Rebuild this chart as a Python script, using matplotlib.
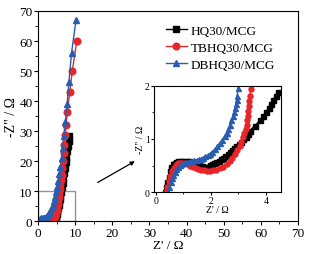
import matplotlib
matplotlib.use("Agg")
import matplotlib.pyplot as plt
from matplotlib.patches import Rectangle

plt.rcParams['font.family'] = ['Liberation Serif', 'DejaVu Serif']

labels = ["HQ30/MCG", "TBHQ30/MCG", "DBHQ30/MCG"]
colors = ["black", "#e8262a", "#2a5cb0"]
markers = ["s", "o", "^"]

# main plot data (Z', -Z'')
hq_x = [4.4, 4.5, 4.6, 4.7, 4.8, 4.9, 5.0, 5.1, 5.2, 5.35, 5.5, 5.65, 5.8, 6.0, 6.2,
        6.4, 6.6, 6.8, 7.0, 7.2, 7.4, 7.6, 7.8, 8.0, 8.2, 8.4]
hq_y = [0, 0.3, 0.6, 1.0, 1.4, 1.9, 2.4, 3.0, 3.6, 4.4, 5.3, 6.2, 7.2, 8.5, 9.8,
        11.2, 12.7, 14.3, 16.0, 17.8, 19.6, 21.4, 23.2, 25.0, 26.7, 28.5]
tb_x = [4.2, 4.3, 4.4, 4.5, 4.6, 4.7, 4.8, 4.95, 5.1, 5.25, 5.4, 5.55, 5.7, 5.85,
        6.0, 6.15, 6.3, 6.5, 6.7, 6.9, 7.1, 7.3, 7.5, 7.9, 8.5, 9.2, 10.4]
tb_y = [0, 0.4, 0.8, 1.3, 1.8, 2.4, 3.0, 3.8, 4.7, 5.7, 6.8, 8.0, 9.3, 10.7,
        12.2, 13.8, 15.5, 17.6, 20.0, 22.6, 25.5, 28.6, 32.0, 36.5, 43.0, 50.0, 60.0]
db_x = [0.3, 0.6, 0.9, 1.2, 1.5, 1.8, 2.1, 2.4, 2.7, 3.0, 3.3, 3.6, 3.9, 4.2, 4.5,
        4.8, 5.1, 5.4, 5.7, 6.0, 6.3, 6.6, 6.9, 7.3, 7.8, 8.3, 9.0, 10.2]
db_y = [0.4, 0.7, 0.9, 1.0, 1.1, 1.2, 1.4, 1.7, 2.1, 2.7, 3.4, 4.3, 5.4, 6.6, 8.0,
        9.6, 11.4, 13.4, 15.6, 18.0, 21.0, 24.5, 28.5, 33.0, 39.0, 46.5, 56.0, 67.0]

# inset data (zoom of high frequency region)
hq_ix = [0.33, 0.37, 0.42, 0.47, 0.51, 0.57, 0.63, 0.70, 0.75, 0.82, 0.90, 1.00, 1.12,
         1.22, 1.32, 1.40, 1.48, 1.58, 1.68, 1.76, 1.84, 1.90, 1.96, 2.05, 2.12, 2.20,
         2.28, 2.36, 2.45, 2.53, 2.61, 2.69, 2.77, 2.85, 2.93, 3.01, 3.09, 3.17, 3.26,
         3.34, 3.42, 3.60, 3.78, 3.90, 4.00, 4.10, 4.18, 4.27, 4.35, 4.45]
hq_iy = [0.00, 0.09, 0.19, 0.29, 0.40, 0.47, 0.52, 0.55, 0.56, 0.58, 0.59, 0.59, 0.59,
         0.58, 0.56, 0.54, 0.53, 0.51, 0.49, 0.48, 0.47, 0.48, 0.51, 0.53, 0.55, 0.57,
         0.59, 0.62, 0.65, 0.68, 0.71, 0.75, 0.79, 0.83, 0.87, 0.91, 0.95, 1.00, 1.04,
         1.09, 1.16, 1.25, 1.35, 1.43, 1.50, 1.58, 1.66, 1.74, 1.82, 1.89]
tb_ix = [0.38, 0.42, 0.47, 0.52, 0.58, 0.65, 0.72, 0.80, 0.88, 0.96, 1.05, 1.15, 1.25,
         1.35, 1.45, 1.55, 1.65, 1.75, 1.85, 1.96, 2.08, 2.20, 2.32, 2.45, 2.57, 2.69,
         2.78, 2.87, 2.96, 3.05, 3.11, 3.17, 3.22, 3.27, 3.30, 3.33, 3.35, 3.36, 3.38,
         3.40, 3.42, 3.45]
tb_iy = [0.00, 0.10, 0.20, 0.30, 0.39, 0.46, 0.51, 0.54, 0.55, 0.55, 0.54, 0.52, 0.50,
         0.47, 0.45, 0.43, 0.42, 0.41, 0.40, 0.40, 0.41, 0.42, 0.45, 0.48, 0.53, 0.59,
         0.65, 0.72, 0.80, 0.87, 0.95, 1.03, 1.11, 1.19, 1.27, 1.35, 1.44, 1.53, 1.62,
         1.72, 1.82, 1.95]
db_ix = [0.45, 0.49, 0.54, 0.59, 0.64, 0.69, 0.75, 0.81, 0.87, 0.93, 1.00, 1.08, 1.16,
         1.24, 1.32, 1.40, 1.48, 1.56, 1.64, 1.72, 1.80, 1.88, 1.96, 2.05, 2.15, 2.24,
         2.33, 2.42, 2.50, 2.57, 2.63, 2.69, 2.75, 2.80, 2.84, 2.88, 2.91, 2.94, 2.96, 3.00]
db_iy = [0.00, 0.09, 0.18, 0.26, 0.32, 0.37, 0.43, 0.48, 0.51, 0.53, 0.55, 0.56, 0.57,
         0.58, 0.59, 0.60, 0.61, 0.62, 0.63, 0.65, 0.67, 0.69, 0.72, 0.76, 0.81, 0.87,
         0.93, 0.99, 1.06, 1.12, 1.19, 1.27, 1.35, 1.43, 1.50, 1.58, 1.66, 1.74, 1.82, 1.97]

main_x = [hq_x, tb_x, db_x]
main_y = [hq_y, tb_y, db_y]
ins_x = [hq_ix, tb_ix, db_ix]
ins_y = [hq_iy, tb_iy, db_iy]

fig = plt.figure(figsize=(3.26, 2.55), dpi=100)
ax = fig.add_axes([0.117, 0.129, 0.797, 0.824])

for xs, ys, c, m, lab in zip(main_x, main_y, colors, markers, labels):
    ax.plot(xs, ys, color=c, marker=m, markersize=4.8, linewidth=1.0, label=lab)

ax.set_xlim(0, 70)
ax.set_ylim(0, 70)
ax.set_xticks(range(0, 71, 10))
ax.set_yticks(range(0, 71, 10))
ax.set_xticks(range(5, 70, 10), minor=True)
ax.set_yticks(range(5, 70, 10), minor=True)
ax.tick_params(which='both', direction='out', labelsize=9.5, pad=1)
ax.tick_params(which='major', length=3)
ax.tick_params(which='minor', length=2)
ax.set_xlabel("Z' / \u03a9", fontsize=9.5, labelpad=0)
ax.set_ylabel('-Z" / \u03a9', fontsize=10, labelpad=1)

ax.add_patch(Rectangle((0, 0), 10, 10, fill=False, edgecolor="#a585aa", linewidth=1.0))
ax.annotate("", xy=(26.7, 20.4), xytext=(15.4, 12.4),
            arrowprops=dict(arrowstyle="-|>", color="black", lw=0.9, mutation_scale=6))

ax.legend(loc="upper left", bbox_to_anchor=(0.47, 0.96), frameon=False, fontsize=9.5,
          handlelength=1.6, handletextpad=0.3, labelspacing=0.35, borderaxespad=0)

ins = fig.add_axes([0.472, 0.243, 0.39, 0.416])
for xs, ys, c, m in zip(ins_x, ins_y, colors, markers):
    ins.plot(xs, ys, color=c, marker=m, markersize=3.6, linewidth=1.0)
ins.set_xlim(-0.07, 4.55)
ins.set_ylim(0, 2)
ins.set_xticks([0, 2, 4])
ins.set_xticks([1, 3], minor=True)
ins.set_yticks([0, 1, 2])
ins.set_yticks([0.5, 1.5], minor=True)
ins.tick_params(which='both', direction='out', labelsize=7, pad=1)
ins.tick_params(which='major', length=2)
ins.tick_params(which='minor', length=1.2)
ins.set_xlabel("Z' / \u03a9", fontsize=7, labelpad=0)
ins.set_ylabel('-Z" / \u03a9', fontsize=7, labelpad=0)

fig.savefig("out.png", dpi=100)
